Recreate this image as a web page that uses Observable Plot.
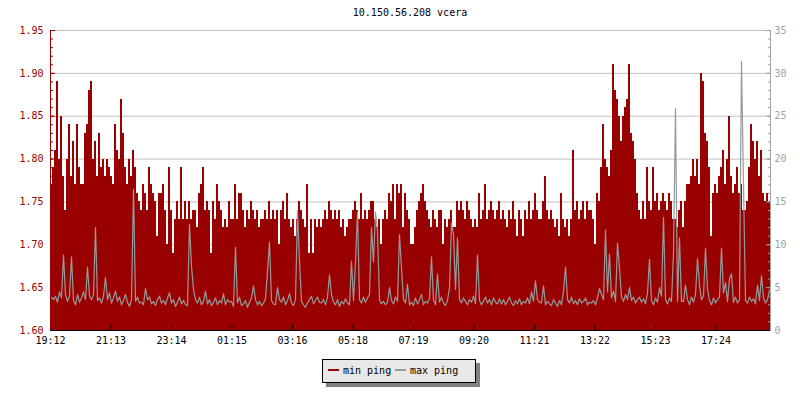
<!DOCTYPE html>
<html>
<head>
<meta charset="utf-8">
<script src="https://cdn.jsdelivr.net/npm/d3@7"></script>
<script src="https://cdn.jsdelivr.net/npm/@observablehq/plot@0.6"></script>
<style>
  body { margin: 0; background: #fff; font-family: "DejaVu Sans Mono", monospace; }
  #wrap { position: relative; width: 800px; height: 400px; overflow: hidden; }
  #title { position: absolute; top: 7px; left: 50px; width: 720px; text-align: center; font-size: 10px; color: #000; line-height: 12px; }
  #chart { position: absolute; top: 0; left: 0; }
  #legend { position: absolute; left: 322px; top: 359px; width: 152px; height: 22px; background: #e8e8e8; border: 1px solid #000; box-shadow: 4px 4px 0 #808080; font-size: 10px; color: #000; }
  .item { position: absolute; top: 5px; line-height: 12px; white-space: nowrap; }
  .sw { display: inline-block; width: 11px; height: 2px; vertical-align: middle; margin-right: 4px; position: relative; top: -1px; }
</style>
</head>
<body>
<div id="wrap">
  <div id="title"></div>
  <div id="chart"></div>
  <div id="legend"></div>
</div>
<script>
const title = "10.150.56.208 vcera";
const seriesNames = ["min ping", "max ping"];
const seriesColors = ["#990000", "#999999"];
const stepMinutes = 4;
const xTickLabels = ["19:12","21:13","23:14","01:15","03:16","05:18","07:19","09:20","11:21","13:22","15:23","17:24"];
const xTickEveryMinutes = 121;
const leftTicks = [1.60, 1.65, 1.70, 1.75, 1.80, 1.85, 1.90, 1.95];
const rightTicks = [0, 5, 10, 15, 20, 25, 30, 35];

// min ping (left axis, ms)
const minPing = [
1.77,1.79,1.81,1.89,1.80,1.85,1.78,1.74,1.80,1.84,1.78,1.82,1.77,1.84,1.79,1.77,1.77,1.83,1.84,1.88,1.89,1.80,1.82,1.78,1.83,1.79,1.80,1.78,1.80,1.79,1.78,1.77,1.84,1.81,1.80,1.87,1.83,1.79,1.77,1.80,1.78,1.81,1.79,1.76,1.75,
1.74,1.77,1.76,1.74,1.79,1.77,1.76,1.75,1.71,1.76,1.76,1.77,1.74,1.70,1.79,1.74,1.69,1.73,1.75,1.73,1.79,1.73,1.75,1.73,1.75,1.73,1.74,1.74,1.72,1.76,1.77,1.79,1.74,1.75,1.74,1.69,1.75,1.73,1.77,1.75,1.74,1.72,1.73,1.72,1.75,
1.73,1.73,1.77,1.73,1.76,1.76,1.74,1.72,1.74,1.73,1.75,1.74,1.73,1.74,1.72,1.73,1.73,1.74,1.73,1.75,1.73,1.74,1.73,1.74,1.70,1.74,1.75,1.73,1.76,1.73,1.72,1.73,1.71,1.73,1.75,1.74,1.73,1.72,1.77,1.69,1.73,1.69,1.73,1.72,1.73,
1.72,1.73,1.74,1.73,1.75,1.74,1.73,1.74,1.73,1.74,1.72,1.73,1.71,1.72,1.73,1.73,1.74,1.75,1.74,1.73,1.76,1.73,1.74,1.73,1.74,1.75,1.75,1.73,1.72,1.73,1.70,1.73,1.74,1.73,1.76,1.75,1.77,1.73,1.77,1.76,1.77,1.72,1.76,1.74,1.73,
1.70,1.70,1.72,1.74,1.75,1.76,1.77,1.75,1.74,1.73,1.72,1.74,1.73,1.72,1.74,1.74,1.70,1.73,1.72,1.73,1.74,1.72,1.72,1.75,1.74,1.75,1.74,1.73,1.75,1.74,1.73,1.72,1.73,1.72,1.76,1.73,1.74,1.77,1.73,1.74,1.75,1.74,1.73,1.74,1.75,
1.73,1.74,1.73,1.72,1.74,1.73,1.75,1.73,1.71,1.74,1.73,1.71,1.74,1.73,1.75,1.73,1.74,1.76,1.74,1.73,1.73,1.75,1.78,1.74,1.73,1.74,1.73,1.72,1.73,1.71,1.76,1.73,1.72,1.73,1.71,1.73,1.81,1.74,1.75,1.73,1.74,1.75,1.73,1.75,1.74,
1.74,1.73,1.70,1.76,1.75,1.79,1.84,1.80,1.79,1.78,1.81,1.91,1.88,1.87,1.85,1.82,1.85,1.86,1.87,1.91,1.83,1.82,1.80,1.76,1.74,1.73,1.75,1.73,1.79,1.75,1.74,1.79,1.75,1.76,1.74,1.75,1.76,1.75,1.74,1.76,1.75,1.73,1.73,1.72,1.74,
1.75,1.72,1.75,1.77,1.77,1.78,1.80,1.78,1.80,1.77,1.90,1.89,1.83,1.82,1.79,1.71,1.76,1.77,1.76,1.78,1.79,1.81,1.77,1.80,1.85,1.78,1.76,1.77,1.79,1.76,1.77,1.74,1.74,1.75,1.79,1.84,1.82,1.80,1.82,1.78,1.81,1.76,1.75,1.76,1.75
];

// max ping (right axis, ms)
const maxPing = [
3.9,3.6,4.0,3.3,4.5,3.8,8.8,4.2,3.4,4.0,8.6,3.5,3.0,4.2,3.3,3.8,4.5,3.6,7.4,4.0,3.6,4.2,12.0,3.5,3.8,3.2,4.0,6.2,3.6,4.4,3.2,3.8,4.6,3.4,3.9,3.0,3.5,4.2,3.3,2.8,3.6,16.5,3.4,3.9,3.2,
3.3,3.0,4.9,3.6,3.9,3.1,3.4,2.9,3.6,4.0,3.2,3.5,3.0,3.8,4.4,3.2,3.6,2.8,3.3,3.9,3.1,3.5,3.0,2.9,12.4,7.5,4.8,3.6,3.2,3.9,3.0,3.4,4.6,3.1,3.6,2.9,3.3,3.8,3.0,3.5,3.2,4.3,3.0,3.6,3.3,
3.4,2.8,9.7,3.2,3.9,2.9,3.1,3.5,2.7,3.3,3.8,5.2,3.6,3.0,3.4,2.9,3.2,3.7,6.9,10.3,3.5,3.1,3.0,5.0,3.6,3.3,3.9,3.0,3.5,4.3,3.2,2.9,3.6,14.0,8.1,3.4,3.0,2.7,3.2,3.6,4.0,3.1,3.5,3.9,3.3,
3.2,3.6,3.0,3.9,6.5,4.2,3.3,3.0,3.6,2.8,3.4,3.1,3.7,3.2,3.0,8.1,3.5,8.0,13.8,3.6,3.2,3.9,3.3,3.8,4.2,12.0,8.0,13.8,11.5,3.6,3.1,3.4,3.0,3.3,5.0,3.5,3.1,3.9,3.4,11.2,7.3,3.6,3.2,5.4,3.0,
3.3,2.9,3.8,3.1,3.6,4.2,3.0,3.4,3.2,3.7,8.6,3.5,3.0,6.6,3.3,3.9,3.2,2.9,3.5,5.0,12.5,11.2,4.8,10.8,3.6,3.2,3.8,3.4,3.0,3.6,3.3,4.0,3.1,8.8,3.5,3.0,3.4,3.9,3.2,3.6,3.0,3.8,3.3,3.1,3.7,
3.1,3.6,3.0,3.4,3.9,3.2,2.9,3.5,3.1,3.7,3.0,3.4,3.2,3.8,3.1,4.5,3.4,5.8,3.6,3.3,3.2,5.2,3.0,3.4,3.1,2.9,3.6,3.2,2.8,3.5,3.0,4.6,7.4,3.6,3.2,3.9,3.1,3.5,3.0,3.7,3.2,3.4,3.8,3.0,3.3,
3.2,3.5,3.0,3.8,4.9,4.2,3.6,11.7,4.5,8.9,3.8,4.6,3.4,10.2,7.3,3.9,3.4,4.2,3.6,5.0,3.5,3.9,3.2,3.6,3.9,3.3,3.7,3.1,4.4,8.3,3.5,3.0,3.8,3.3,5.0,4.0,13.2,3.6,3.1,3.8,3.4,9.0,25.9,3.4,10.8,
3.4,3.4,5.3,3.6,3.0,3.9,3.3,4.2,8.4,5.3,3.6,4.0,9.6,4.8,3.5,3.0,3.8,3.2,3.6,3.9,9.6,4.4,5.6,3.4,6.0,6.6,3.3,3.9,3.2,3.6,31.4,17.0,3.5,3.2,3.9,3.4,3.7,3.1,5.3,3.5,6.4,3.8,3.2,3.6,4.7
];

const yDomain = [leftTicks[0], leftTicks[leftTicks.length - 1]];
const rightMax = rightTicks[rightTicks.length - 1];
// map right-axis value onto left scale
const toLeft = v => yDomain[0] + v / rightMax * (yDomain[1] - yDomain[0]);
const xDomain = [0, 24 * 60];

const data = minPing.map((m, i) => ({t: i * stepMinutes, t2: (i + 1) * stepMinutes, min: m, max: toLeft(maxPing[i])}));
const xTicks = xTickLabels.map((_, i) => i * xTickEveryMinutes);
const minorY = d3.range(160, 196).map(v => v / 100);
const rightTickPos = rightTicks.map(toLeft);

const chart = Plot.plot({
  width: 800,
  height: 350,
  marginLeft: 50,
  marginRight: 30,
  marginTop: 30,
  marginBottom: 20,
  x: {domain: xDomain, label: null},
  y: {domain: yDomain, label: null},
  style: {fontFamily: "DejaVu Sans Mono, monospace", fontSize: "10px", background: "transparent", overflow: "visible"},
  marks: [
    Plot.ruleY(leftTicks.slice(1), {stroke: "#c0c0c0", strokeWidth: 1}),
    Plot.rectY(data, {x1: "t", x2: "t2", y1: yDomain[0], y2: "min", fill: seriesColors[0], inset: 0, shapeRendering: "crispEdges"}),
    Plot.line(data, {x: d => d.t + stepMinutes / 2, y: "max", stroke: seriesColors[1], strokeWidth: 1.2, curve: "linear"}),
    // left axis (red)
    Plot.axisY(leftTicks, {anchor: "left", tickSize: 0, tickPadding: 7, fill: seriesColors[0], tickFormat: d => d.toFixed(2)}),
    Plot.axisY(leftTicks, {anchor: "left", tickSize: -5, stroke: seriesColors[0], tickFormat: () => ""}),
    Plot.axisY(minorY, {anchor: "left", tickSize: -3, stroke: seriesColors[0], tickFormat: () => ""}),
    // right axis (gray)
    Plot.axisY(rightTickPos, {anchor: "right", tickSize: 0, tickPadding: 4, fill: "#a0a0a0", tickFormat: d => String(Math.round((d - yDomain[0]) / (yDomain[1] - yDomain[0]) * rightMax))}),
    Plot.axisY(rightTickPos, {anchor: "right", tickSize: -5, stroke: "#a0a0a0", tickFormat: () => ""}),
    Plot.axisY(minorY, {anchor: "right", tickSize: -3, stroke: "#a0a0a0", tickFormat: () => ""}),
    // x axis
    Plot.axisX(xTicks, {anchor: "bottom", tickSize: 0, tickPadding: 6, fill: "#000", tickFormat: (d, i) => xTickLabels[i]}),
    Plot.axisX(xTicks, {anchor: "bottom", tickSize: -5, stroke: "#000", tickFormat: () => ""}),
    Plot.ruleX([xDomain[0]], {stroke: seriesColors[0]}),
    Plot.ruleX([xDomain[1]], {stroke: "#a0a0a0"}),
    Plot.ruleY([yDomain[0]], {stroke: "#000"})
  ]
});
document.getElementById("chart").appendChild(chart);
document.getElementById("title").textContent = title;

const legend = document.getElementById("legend");
const lefts = [5, 72];
seriesNames.forEach((name, i) => {
  const it = document.createElement("div");
  it.className = "item";
  it.style.left = lefts[i] + "px";
  const sw = document.createElement("span");
  sw.className = "sw";
  sw.style.background = seriesColors[i];
  it.appendChild(sw);
  it.appendChild(document.createTextNode(name));
  legend.appendChild(it);
});
</script>
</body>
</html>
